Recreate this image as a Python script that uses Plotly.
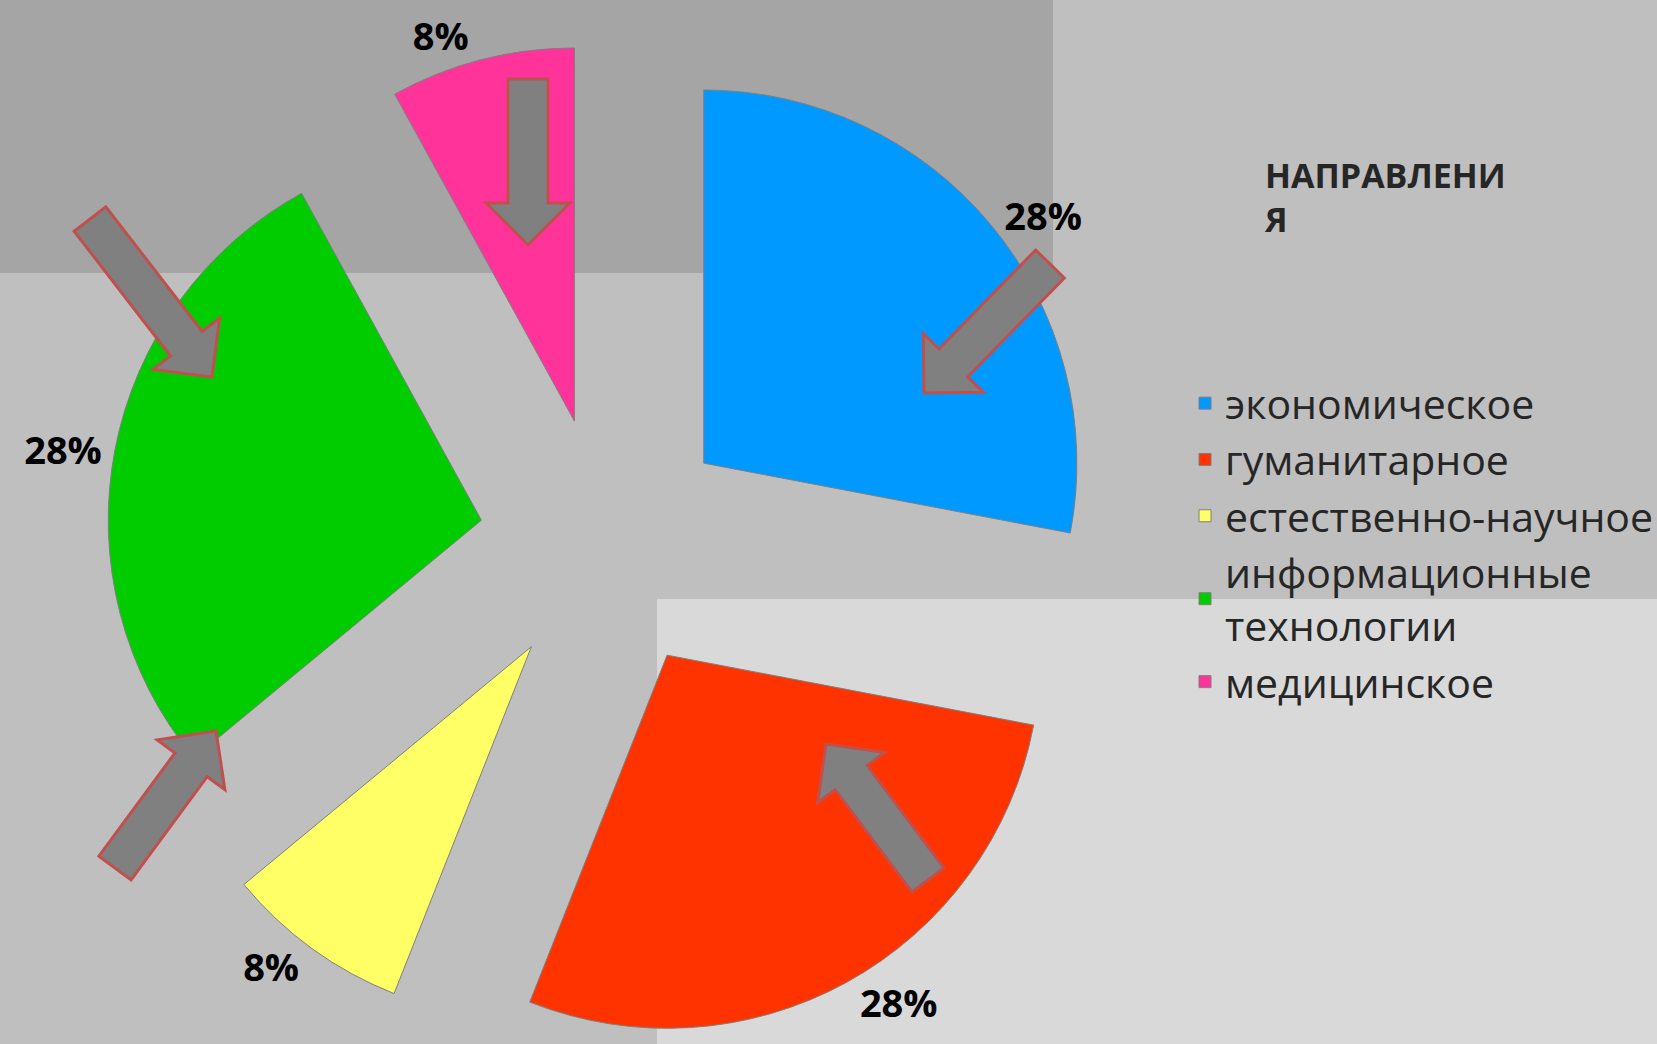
import math
import plotly.graph_objects as go

# ---- data ----
categories = ["экономическое", "гуманитарное", "естественно-научное",
              "информационные<br>технологии", "медицинское"]
values = [7, 7, 2, 7, 2]
slice_colors = ["#0099FF", "#FF3300", "#FFFF66", "#00CC00", "#FF3399"]
legend_title = "НАПРАВЛЕНИ<br>Я"

W, H = 1657, 1044


def px(x):
    return x / W


def py(y):
    return 1 - y / H


fig = go.Figure(go.Pie(
    labels=categories,
    values=values,
    sort=False,
    direction="clockwise",
    rotation=0,
    pull=0.34,
    marker=dict(colors=slice_colors, line=dict(color="#7F7F7F", width=1)),
    textinfo="percent",
    textposition="outside",
    textfont=dict(family="Open Sans", size=38, color="black", weight="bold"),
    domain=dict(x=[px(86), px(1126)], y=[0, py(44)]),
    hoverinfo="label+percent",
))


def arrow_path(tail, tip, sw=40, hw=84, hl=42):
    (x0, y0), (x1, y1) = tail, tip
    dx, dy = x1 - x0, y1 - y0
    L = math.hypot(dx, dy)
    ux, uy = dx / L, dy / L
    nx, ny = -uy, ux
    bx, by = x1 - ux * hl, y1 - uy * hl
    pts = [
        (x0 + nx * sw / 2, y0 + ny * sw / 2),
        (bx + nx * sw / 2, by + ny * sw / 2),
        (bx + nx * hw / 2, by + ny * hw / 2),
        (x1, y1),
        (bx - nx * hw / 2, by - ny * hw / 2),
        (bx - nx * sw / 2, by - ny * sw / 2),
        (x0 - nx * sw / 2, y0 - ny * sw / 2),
    ]
    return "M" + " L".join(f"{px(x):.5f},{py(y):.5f}" for x, y in pts) + " Z"


shapes = [
    dict(type="rect", xref="paper", yref="paper", layer="below",
         x0=0, x1=px(1053), y0=py(273), y1=1,
         fillcolor="#A5A5A5", line=dict(width=0)),
    dict(type="rect", xref="paper", yref="paper", layer="below",
         x0=px(657), x1=1, y0=0, y1=py(599),
         fillcolor="#D9D9D9", line=dict(width=0)),
]

arrows = [
    ((528, 79), (528, 245)),
    ((1050, 264), (924, 393)),
    ((90, 219), (212, 377)),
    ((115, 868), (216, 731)),
    ((928, 880), (826, 744)),
]
for tail, tip in arrows:
    shapes.append(dict(type="path", xref="paper", yref="paper", layer="above",
                       path=arrow_path(tail, tip),
                       fillcolor="#808080",
                       line=dict(color="#C0504D", width=3)))

fig.update_layout(
    width=W, height=H,
    margin=dict(l=0, r=0, t=0, b=0, autoexpand=False),
    paper_bgcolor="#BFBFBF",
    plot_bgcolor="#BFBFBF",
    shapes=shapes,
    showlegend=True,
    legend=dict(
        x=px(1185), y=py(370), xanchor="left", yanchor="top",
        font=dict(family="Open Sans", size=41, color="#262626"),
        bgcolor="rgba(0,0,0,0)", traceorder="normal",
    ),
    annotations=[dict(
        text=legend_title, xref="paper", yref="paper",
        x=px(1262), y=py(150), xanchor="left", yanchor="top",
        align="left", showarrow=False,
        font=dict(family="Open Sans", size=34, color="#262626", weight="bold"),
    )],
)

fig.write_html(
    "out.html",
    config={"displayModeBar": False},
    post_script="document.body.style.margin='0';document.body.style.overflow='hidden';",
)
